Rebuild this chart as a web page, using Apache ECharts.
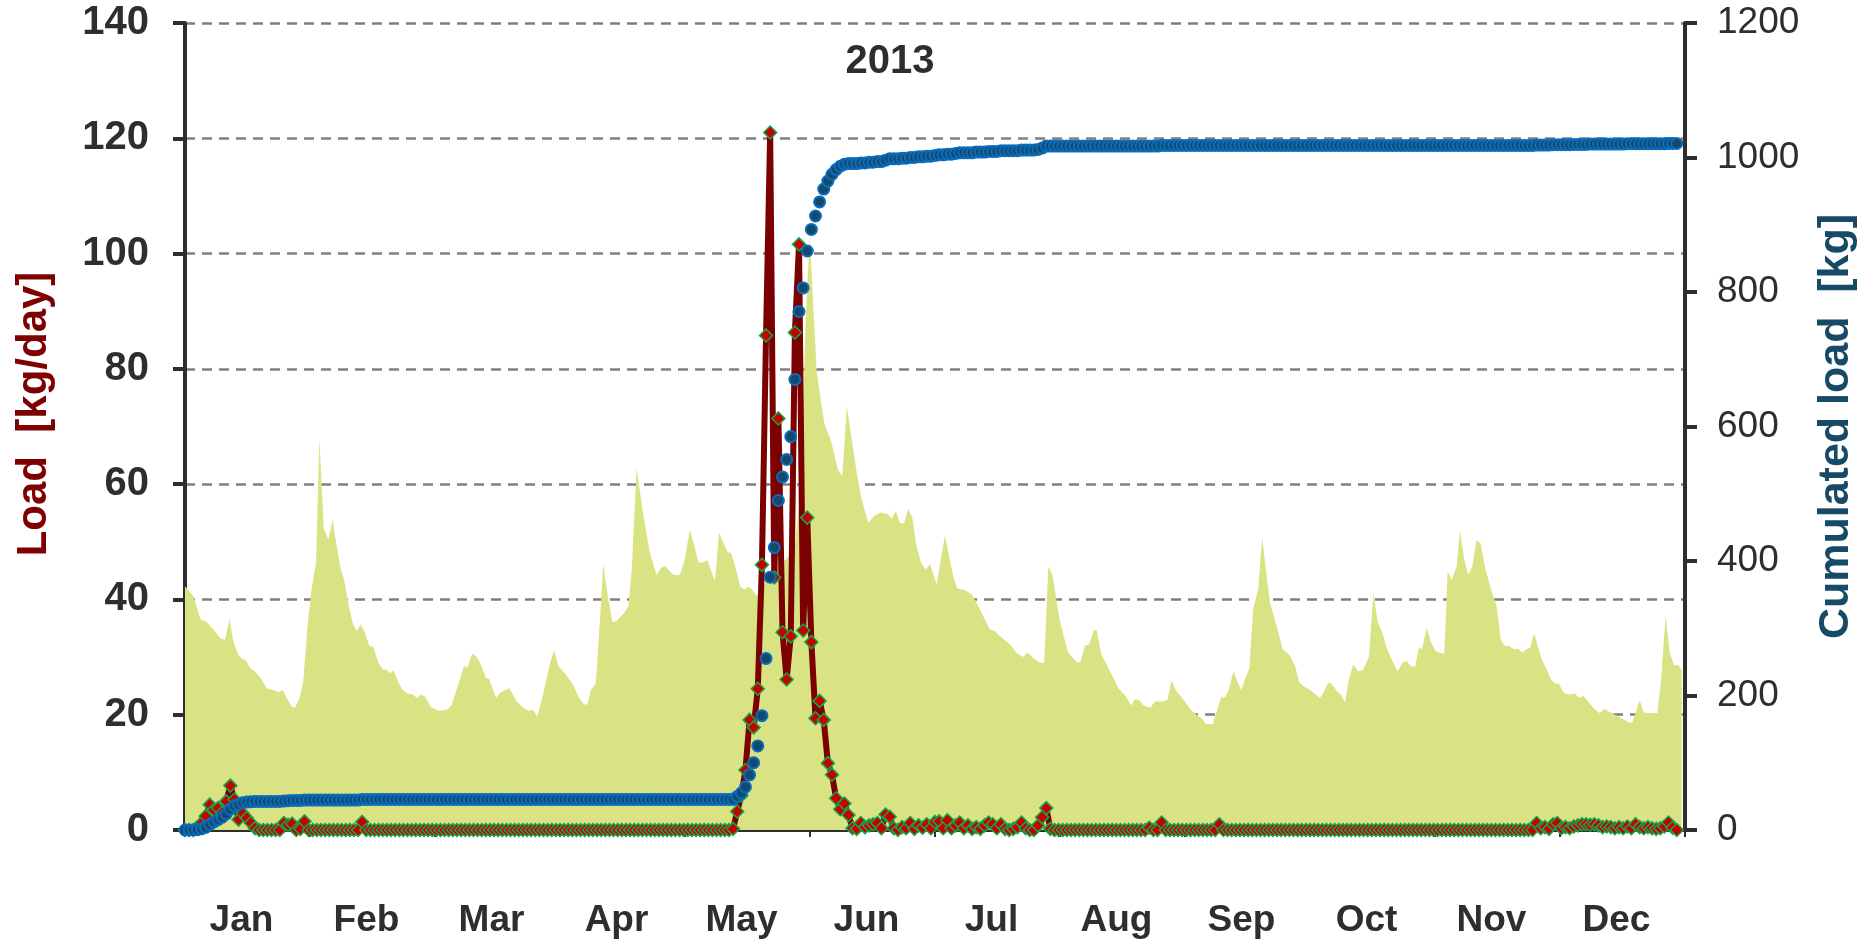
<!DOCTYPE html>
<html>
<head>
<meta charset="utf-8">
<title>Load 2013</title>
<script src="https://cdn.jsdelivr.net/npm/echarts@6/dist/echarts.min.js"></script>
<style>
  html, body { margin: 0; padding: 0; background: #fff; }
  #chart { width: 1866px; height: 940px; }
</style>
</head>
<body>
<div id="chart"></div>
<script>
// ── Data ──────────────────────────────────────────────────────────────────
const MONTHS = ['Jan', 'Feb', 'Mar', 'Apr', 'May', 'Jun', 'Jul', 'Aug', 'Sep', 'Oct', 'Nov', 'Dec']

// daily load [kg/day], one value per day from 1 Jan
const loadDaily = [
  0, 0, 0, 0.5, 1.2, 2.4, 4.4, 3.5, 3.8, 3.0,
  5.0, 7.7, 5.3, 1.8, 2.9, 2.1, 1.2, 0.3, 0, 0,
  0, 0, 0, 0, 1.2, 0.9, 1.1, 0, 0.2, 1.5,
  0, 0, 0, 0, 0, 0, 0, 0, 0, 0,
  0, 0, 0, 1.4, 0, 0, 0, 0, 0, 0,
  0, 0, 0, 0, 0, 0, 0, 0, 0, 0,
  0, 0, 0, 0, 0, 0, 0, 0, 0, 0,
  0, 0, 0, 0, 0, 0, 0, 0, 0, 0,
  0, 0, 0, 0, 0, 0, 0, 0, 0, 0,
  0, 0, 0, 0, 0, 0, 0, 0, 0, 0,
  0, 0, 0, 0, 0, 0, 0, 0, 0, 0,
  0, 0, 0, 0, 0, 0, 0, 0, 0, 0,
  0, 0, 0, 0, 0, 0, 0, 0, 0, 0,
  0, 0, 0, 0.2, 3.2, 6.0, 10.4, 19.1, 17.8, 24.5,
  46.0, 85.8, 121, 43.8, 71.4, 34.3, 26.1, 33.6, 86.3, 101.6,
  34.6, 54.2, 32.6, 19.4, 22.4, 19.1, 11.6, 9.6, 5.5, 3.6,
  4.6, 2.6, 0.3, 0.2, 1.2, 0.5, 0.8, 1.0, 1.2, 0.3,
  2.7, 2.3, 0.3, 0, 0.5, 0.3, 1.2, 0.2, 0.8, 0.4,
  1.0, 0.3, 1.4, 1.5, 0.3, 1.7, 0.3, 0.8, 1.3, 0.3,
  0.8, 0.2, 0.5, 0.2, 0.8, 1.3, 1.0, 0.3, 1.0, 0.2,
  0, 0.2, 0.5, 1.3, 0.3, 0, 0, 0.8, 2.2, 3.8,
  0.2, 0, 0, 0, 0, 0, 0, 0, 0, 0,
  0, 0, 0, 0, 0, 0, 0, 0, 0, 0,
  0, 0, 0, 0, 0.4, 0, 0, 1.3, 0, 0,
  0, 0, 0, 0, 0, 0, 0, 0, 0, 0,
  0, 1.0, 0, 0, 0, 0, 0, 0, 0, 0,
  0, 0, 0, 0, 0, 0, 0, 0, 0, 0,
  0, 0, 0, 0, 0, 0, 0, 0, 0, 0,
  0, 0, 0, 0, 0, 0, 0, 0, 0, 0,
  0, 0, 0, 0, 0, 0, 0, 0, 0, 0,
  0, 0, 0, 0, 0, 0, 0, 0, 0, 0,
  0, 0, 0, 0, 0, 0, 0, 0, 0, 0,
  0, 0, 0, 0, 0, 0, 0, 0, 1.2, 0.3,
  0.5, 0.2, 1.0, 1.2, 0.3, 0.5, 0.3, 0.6, 0.8, 1.0,
  1.0, 0.9, 1.0, 0.8, 0.5, 0.6, 0.5, 0.3, 0.5, 0.3,
  0.6, 0.3, 1.0, 0.5, 0.3, 0.5, 0.3, 0.2, 0.3, 0.6,
  1.3, 0.4, 0
]

// cumulated load [kg], same days
const cumDaily = [
  0, 0, 0, 0.5, 1.7, 4, 8, 12, 15.5, 19,
  24, 31, 36, 38, 40.5, 41.5, 42, 42.5, 42.5, 42.5,
  42.5, 42.5, 42.5, 42.5, 43, 43.5, 44, 44, 44, 44.5,
  44.5, 44.5, 44.5, 44.5, 44.5, 44.5, 44.5, 44.5, 44.5, 44.5,
  44.5, 44.5, 44.5, 45.5, 45.5, 45.5, 45.5, 45.5, 45.5, 45.5,
  45.5, 45.5, 45.5, 45.5, 45.5, 45.5, 45.5, 45.5, 45.5, 45.5,
  45.5, 45.5, 45.5, 45.5, 45.5, 45.5, 45.5, 45.5, 45.5, 45.5,
  45.5, 45.5, 45.5, 45.5, 45.5, 45.5, 45.5, 45.5, 45.5, 45.5,
  45.5, 45.5, 45.5, 45.5, 45.5, 45.5, 45.5, 45.5, 45.5, 45.5,
  45.5, 45.5, 45.5, 45.5, 45.5, 45.5, 45.5, 45.5, 45.5, 45.5,
  45.5, 45.5, 45.5, 45.5, 45.5, 45.5, 45.5, 45.5, 45.5, 45.5,
  45.5, 45.5, 45.5, 45.5, 45.5, 45.5, 45.5, 45.5, 45.5, 45.5,
  45.5, 45.5, 45.5, 45.5, 45.5, 45.5, 45.5, 45.5, 45.5, 45.5,
  45.5, 45.5, 45.5, 45.5, 50, 55, 64, 82, 100, 125,
  170, 255, 376, 420, 490, 525, 551, 585, 670, 771,
  806, 861, 893, 913, 934, 953, 965, 975, 982, 987,
  990, 991, 991, 991, 992, 992, 993, 993, 994, 994,
  996, 998, 998, 998, 999, 999, 1000, 1000, 1001, 1001,
  1002, 1002, 1003, 1004, 1004, 1005, 1005, 1006, 1007, 1007,
  1007, 1007, 1008, 1008, 1008, 1009, 1009, 1009, 1010, 1010,
  1010, 1010, 1010, 1011, 1011, 1011, 1011, 1012, 1014, 1017,
  1017, 1017, 1017, 1017, 1017, 1017, 1017, 1017, 1017, 1017,
  1017, 1017, 1017, 1017, 1017, 1017, 1017, 1017, 1017, 1017,
  1017, 1017, 1017, 1017, 1017, 1017, 1017, 1018, 1018, 1018,
  1018, 1018, 1018, 1018, 1018, 1018, 1018, 1018, 1018, 1018,
  1018, 1018, 1018, 1018, 1018, 1018, 1018, 1018, 1018, 1018,
  1018, 1018, 1018, 1018, 1018, 1018, 1018, 1018, 1018, 1018,
  1018, 1018, 1018, 1018, 1018, 1018, 1018, 1018, 1018, 1018,
  1018, 1018, 1018, 1018, 1018, 1018, 1018, 1018, 1018, 1018,
  1018, 1018, 1018, 1018, 1018, 1018, 1018, 1018, 1018, 1018,
  1018, 1018, 1018, 1018, 1018, 1018, 1018, 1018, 1018, 1018,
  1018, 1018, 1018, 1018, 1018, 1018, 1018, 1018, 1018, 1018,
  1018, 1018, 1018, 1018, 1018, 1018, 1018, 1018, 1018.5, 1018.5,
  1018.5, 1018.5, 1019, 1019, 1019, 1019, 1019, 1019.5, 1019.5, 1019.5,
  1019.5, 1020, 1020, 1020, 1020, 1020, 1020, 1020, 1020, 1020,
  1020.5, 1020.5, 1020.5, 1020.5, 1020.5, 1020.5, 1020.5, 1020.5, 1020.5, 1020.5,
  1021, 1021, 1021
]

// background flow hydrograph (drawn on the left scale): vertices [day, value]
const flowDay = [
  0, 2, 3.8, 5.3, 6.9, 8.5, 9.7, 10.8, 11.7, 12.9, 13.8, 14.8, 15.8, 17, 18.6, 19.8, 21.4, 22.9, 23.7, 24.7,
  25.9, 26.7, 27.8, 28.7, 29.8, 30.7, 31.8, 32.6, 33.7, 34.8, 35.8, 36.8, 37.8, 38.6, 39.6, 40.7, 41.7, 42.6, 43.7, 44.7,
  45.7, 46.9, 48, 48.9, 49.8, 50.6, 51.8, 52.8, 54, 55.4, 56.2, 57.2, 58.3, 59.6, 61.5, 63.5, 64.7, 66.3, 67.7, 68.5,
  69.7, 70.8, 72, 73, 73.8, 75.5, 76.6, 78.7, 80.5, 82.1, 83.3, 84.5, 85.5, 87, 88.6, 89.6, 90.6, 92.2, 94.2, 95.4,
  96.7, 97.6, 98.5, 99.7, 100.7, 101.5, 102.6, 103.7, 104.7, 106.6, 107.6, 108.4, 109.6, 111, 112.8, 114.5, 115.5, 116.5, 117.7, 118.7,
  120.1, 121.2, 122.5, 123.6, 124.6, 125.6, 126.8, 127.6, 128.6, 129.6, 130.6, 131.7, 132.5, 133.5, 134.7, 135.7, 136.7, 137.7, 138.7, 140,
  142, 144, 146, 148, 149.5, 150.6, 151.6, 153.3, 155.1, 156.9, 158.4, 159.5, 160.6, 161.8, 163, 164.2, 165.8, 167.3, 168.7, 170.5,
  171.5, 172.5, 173.5, 174.5, 175.5, 176.5, 177.5, 178.6, 179.7, 180.8, 182.4, 184.4, 186.4, 187.4, 189.3, 190.9, 192.1, 193.3, 195.3, 196.6,
  197.8, 200.2, 201.8, 203.4, 204.4, 206.3, 207.5, 208.5, 209.5, 210.5, 212.3, 214.3, 216.4, 217.3, 218.4, 219.4, 220.6, 221.2, 222.4, 224.1,
  226.5, 228.3, 229.6, 230.5, 231.6, 232.5, 234.2, 235.4, 237.4, 238.4, 239.4, 240.4, 242.3, 244, 245.5, 246.7, 247.8, 249.4, 251.4, 252.4,
  253.4, 254.4, 256.3, 257.2, 258.3, 259.2, 260.4, 261.4, 262.3, 263.3, 264.9, 266.4, 268.1, 269.4, 270.4, 271.4, 273.4, 275.4, 276.2, 277.4,
  278.2, 279.5, 280.5, 281.5, 282.3, 283.5, 284.7, 285.9, 287.3, 288.4, 289.4, 290.6, 291.6, 293, 294.3, 295.4, 296.4, 297.5, 298.5, 299.4,
  300.2, 301.3, 302.4, 303.5, 305.1, 305.6, 306.4, 307.4, 308.6, 309.4, 310.4, 311.4, 312.4, 313.4, 314.4, 315.4, 316.7, 318.3, 319.3, 320.3,
  321.3, 322.4, 323.5, 324.5, 325.6, 326.4, 327.4, 328.4, 329.4, 330.5, 331.5, 332.5, 333.4, 334.5, 335.7, 337.3, 338.3, 339.3, 342.1, 343.3,
  344.4, 346.2, 348.6, 350.3, 351.2, 353, 354, 355, 357.3, 358.2, 359.3, 360.3, 361.4, 362.2, 363.2
]
const flowValue = [
  42.3, 40.6, 36.5, 36.1, 34.8, 33.3, 33.0, 36.6, 32.8, 30.4, 29.7, 29.4, 28.1, 27.5, 26.1, 24.6, 24.3, 23.9, 24.3, 22.9,
  21.4, 21.2, 22.9, 25.8, 35.9, 41.7, 46.4, 67.8, 52.2, 50.4, 53.8, 49.3, 45.2, 43.5, 39.4, 35.9, 34.5, 35.7, 34.2, 31.9,
  31.8, 29.0, 27.9, 27.8, 27.2, 27.7, 25.6, 24.3, 23.7, 23.5, 22.9, 23.5, 23.1, 21.4, 20.7, 20.8, 21.7, 25.2, 28.4, 28.1,
  30.6, 30.0, 28.4, 26.4, 26.2, 22.9, 23.9, 24.6, 22.3, 21.2, 20.7, 20.8, 19.7, 23.8, 29.0, 31.2, 28.4, 27.2, 25.2, 23.2,
  21.9, 21.7, 24.3, 25.5, 36.5, 46.1, 40.6, 36.1, 36.2, 37.7, 38.8, 45.2, 62.7, 55.7, 48.1, 44.2, 45.5, 45.8, 44.8, 44.2,
  44.3, 46.7, 52.1, 49.3, 46.4, 46.4, 46.8, 45.1, 43.2, 51.6, 49.9, 48.2, 48.1, 45.8, 42.3, 41.7, 42.2, 41.7, 40.6, 42,
  44, 46, 47, 49, 60, 88, 103, 79.4, 70.7, 67.2, 62.6, 61.4, 73.5, 67.8, 62.0, 57.4, 53.3, 54.5, 55.1, 54.8,
  54.0, 55.4, 53.2, 53.2, 55.7, 54.2, 49.3, 46.4, 45.2, 46.1, 42.6, 51.1, 44.1, 41.9, 41.6, 40.9, 39.4, 37.7, 34.8, 34.5,
  33.6, 32.2, 30.7, 30.0, 30.8, 29.6, 29.0, 29.0, 45.7, 44.2, 36.2, 30.8, 29.1, 29.1, 32.0, 32.2, 34.7, 34.7, 30.4, 28.1,
  24.6, 23.2, 21.6, 22.7, 22.5, 21.7, 21.2, 22.3, 22.3, 22.6, 26.0, 24.3, 22.6, 20.9, 20.0, 19.4, 18.4, 18.4, 23.0, 23.0,
  24.6, 27.5, 24.2, 26.1, 28.1, 38.3, 41.7, 50.7, 45.2, 39.4, 35.4, 31.3, 30.3, 28.4, 25.6, 25.0, 24.1, 22.9, 23.7, 25.6,
  25.4, 24.1, 23.5, 22.1, 25.8, 28.7, 27.5, 27.8, 30.1, 41.2, 36.2, 34.1, 31.6, 29.3, 27.5, 29.0, 29.3, 28.4, 28.3, 31.6,
  31.4, 35.1, 32.5, 31.0, 30.6, 30.6, 44.8, 43.4, 45.8, 52.0, 47.0, 44.3, 45.7, 50.3, 49.7, 45.8, 42.3, 38.8, 33.0, 31.9,
  31.9, 31.4, 31.4, 30.8, 31.4, 31.6, 34.1, 31.6, 29.3, 27.8, 26.1, 25.4, 25.4, 23.8, 23.5, 23.7, 22.9, 23.3, 20.9, 20.3,
  21.0, 20.3, 19.4, 18.7, 18.6, 22.5, 20.4, 20.3, 20.3, 26.1, 37.2, 30.7, 28.5, 28.7, 27.8
]

const LOAD_TICKS = { min: 0, max: 140, step: 20 }
const CUM_TICKS = { min: 0, max: 1200, step: 200 }

// ── Chart ─────────────────────────────────────────────────────────────────
const TEXT = '#2e2e2e'
const FONT = '"Liberation Sans", Arial, sans-serif'

const chart = echarts.init(document.getElementById('chart'), null, { renderer: 'canvas' })

const option = {
  animation: false,
  textStyle: { fontFamily: FONT },
  graphic: [{
    type: 'text',
    x: 890,
    y: 62,
    style: {
      text: '2013',
      font: 'bold 40px ' + FONT,
      fill: TEXT,
      align: 'center',
      verticalAlign: 'middle'
    }
  }],
  grid: { left: 185, right: 181, top: 23, bottom: 110 },
  xAxis: [
    { type: 'value', min: 0, max: 364, show: false },
    {
      type: 'category',
      data: MONTHS,
      position: 'bottom',
      boundaryGap: true,
      axisLine: { lineStyle: { color: TEXT, width: 4 } },
      axisTick: { show: true, length: 7, lineStyle: { color: TEXT, width: 2 } },
      axisLabel: { color: TEXT, fontSize: 37, fontWeight: 'bold', margin: 72, padding: [0, 12, 0, 0] },
      splitLine: { show: false }
    }
  ],
  yAxis: [
    {
      type: 'value',
      min: LOAD_TICKS.min, max: LOAD_TICKS.max, interval: LOAD_TICKS.step,
      name: 'Load  [kg/day]',
      nameLocation: 'middle',
      nameGap: 130,
      nameTextStyle: { color: '#7f0000', fontSize: 42, fontWeight: 'bold', padding: [0, 0, 0, 25] },
      axisLine: { show: true, lineStyle: { color: TEXT, width: 4 } },
      axisTick: { show: true, length: 12, lineStyle: { color: TEXT, width: 4 } },
      axisLabel: { color: TEXT, fontSize: 40, fontWeight: 'bold', margin: 36 },
      splitLine: { show: true, lineStyle: { color: '#808080', width: 2.5, type: [10, 7] } }
    },
    {
      type: 'value',
      min: CUM_TICKS.min, max: CUM_TICKS.max, interval: CUM_TICKS.step,
      name: 'Cumulated load  [kg]',
      nameLocation: 'middle',
      nameGap: 130,
      nameTextStyle: { color: '#164a66', fontSize: 43, fontWeight: 'bold' },
      position: 'right',
      axisLine: { show: true, lineStyle: { color: TEXT, width: 4 } },
      axisTick: { show: true, length: 12, lineStyle: { color: TEXT, width: 4 } },
      axisLabel: { color: TEXT, fontSize: 37, margin: 32, formatter: (v) => String(v) },
      splitLine: { show: false }
    }
  ],
  series: [
    {
      name: 'flow',
      type: 'line',
      xAxisIndex: 0,
      yAxisIndex: 0,
      data: flowDay.map((d, i) => [d, flowValue[i]]),
      showSymbol: false,
      lineStyle: { width: 0 },
      areaStyle: { color: '#d9e383', opacity: 1 },
      z: 1
    },
    {
      name: 'load',
      type: 'line',
      xAxisIndex: 0,
      yAxisIndex: 0,
      data: loadDaily.map((v, i) => [i, v]),
      symbol: 'diamond',
      symbolSize: 13,
      showSymbol: true,
      clip: false,
      lineStyle: { color: '#7b0000', width: 6 },
      itemStyle: { color: '#c80000', borderColor: '#12a84a', borderWidth: 1.5 },
      z: 3
    },
    {
      name: 'cumulated',
      type: 'line',
      xAxisIndex: 0,
      yAxisIndex: 1,
      data: cumDaily.map((v, i) => [i, v]),
      symbol: 'circle',
      symbolSize: 11,
      showSymbol: true,
      clip: false,
      lineStyle: { width: 0, opacity: 0 },
      itemStyle: { color: '#15496b', borderColor: '#0a6cbc', borderWidth: 2 },
      z: 4
    }
  ]
}

chart.setOption(option)
</script>
</body>
</html>
